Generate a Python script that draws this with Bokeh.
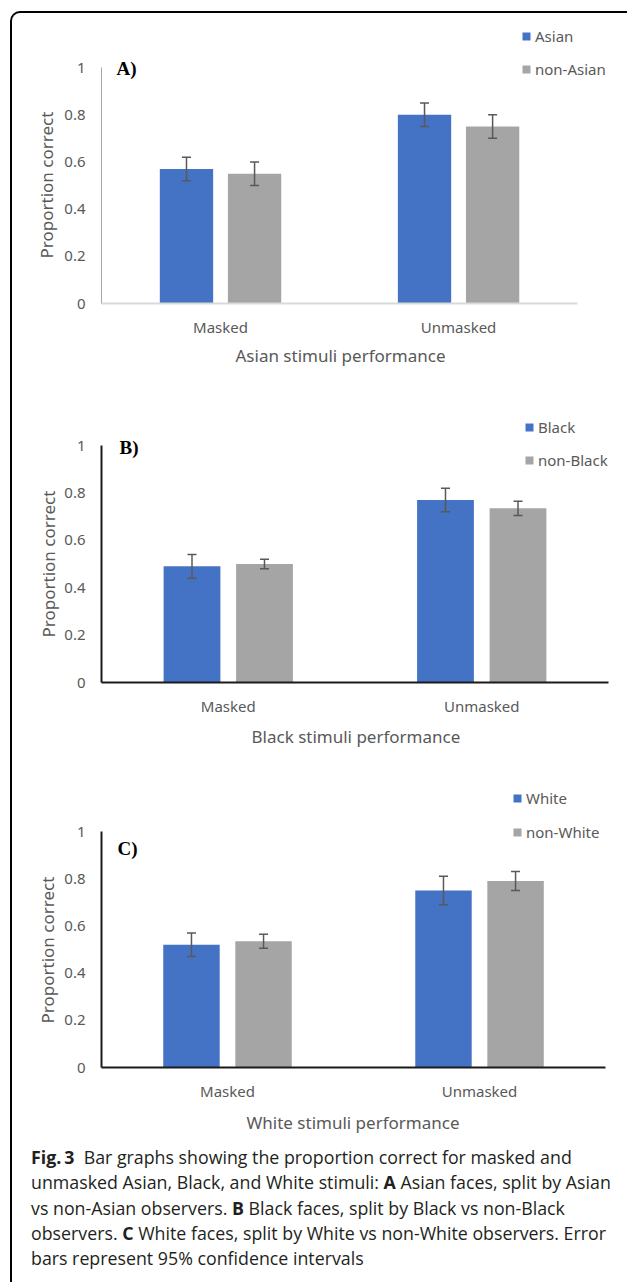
from bokeh.plotting import figure
from bokeh.models import (ColumnDataSource, Range1d, FixedTicker,
                          Legend, LegendItem, Label, Div, Title)
from bokeh.layouts import column
from bokeh.embed import file_html
from bokeh.resources import INLINE

# ---------------- data ----------------
conditions = ["Masked", "Unmasked"]
y_ticks = [0, 0.2, 0.4, 0.6, 0.8, 1]
y_tick_labels = ["0", "0.2", "0.4", "0.6", "0.8", "1"]
y_title = "Proportion correct"

# Panel A: Asian stimuli
a_groups = ["Asian", "non-Asian"]
a_own = [0.57, 0.80]
a_own_err = [0.05, 0.05]
a_other = [0.55, 0.75]
a_other_err = [0.05, 0.05]
a_title = "Asian stimuli performance"

# Panel B: Black stimuli
b_groups = ["Black", "non-Black"]
b_own = [0.49, 0.77]
b_own_err = [0.05, 0.05]
b_other = [0.50, 0.735]
b_other_err = [0.02, 0.03]
b_title = "Black stimuli performance"

# Panel C: White stimuli
c_groups = ["White", "non-White"]
c_own = [0.52, 0.75]
c_own_err = [0.05, 0.06]
c_other = [0.535, 0.79]
c_other_err = [0.03, 0.04]
c_title = "White stimuli performance"

caption_lines = [
    "<b>Fig.&thinsp;3</b>&nbsp;&nbsp;Bar graphs showing the proportion correct for masked and",
    "unmasked Asian, Black, and White stimuli: <b>A</b> Asian faces, split by Asian",
    "vs non-Asian observers. <b>B</b> Black faces, split by Black vs non-Black",
    "observers. <b>C</b> White faces, split by White vs non-White observers. Error",
    "bars represent 95% confidence intervals",
]

BLUE = "#4472C4"
GREY = "#A5A5A5"
ERR = "#595959"
TXT = "#595959"
FONT = "Noto Sans"

OFF = 0.143   # half distance between the two bars of a group (category units)
BW = 0.224    # bar width (category units)
FIG_W = 613
X0 = 12       # page x of the figures' left edge


def panel(letter, groups, own, own_err, other, other_err, xtitle, geo, yaxis_col,
          xaxis_col, yaxis_w, xaxis_w):
    ncat = len(conditions)
    centers = [i + 0.5 for i in range(ncat)]
    src = ColumnDataSource(dict(
        xo=[c - OFF for c in centers], xt=[c + OFF for c in centers],
        own=own, own_lo=[v - e for v, e in zip(own, own_err)],
        own_hi=[v + e for v, e in zip(own, own_err)],
        other=other, other_lo=[v - e for v, e in zip(other, other_err)],
        other_hi=[v + e for v, e in zip(other, other_err)],
    ))
    mbl = geo["ax_l"] - X0
    mbr = 2
    frame_w = FIG_W - mbl - mbr
    x_end = ncat * frame_w / (geo["ax_r"] - geo["ax_l"])
    frame_h = geo["z"] - geo["top"]
    y_end = frame_h / (geo["z"] - geo["o"])
    mbb = geo["top"] + geo["h"] - geo["z"]

    p = figure(width=FIG_W, height=geo["h"], x_range=Range1d(0, x_end),
               y_range=Range1d(0, y_end), output_backend="svg", toolbar_location=None,
               min_border_left=mbl, min_border_right=mbr,
               min_border_top=0, min_border_bottom=mbb)
    p.outline_line_color = None
    p.grid.visible = False
    p.background_fill_color = None
    p.border_fill_color = None

    r1 = p.vbar(x="xo", top="own", width=BW, source=src, fill_color=BLUE, line_color=None)
    r2 = p.vbar(x="xt", top="other", width=BW, source=src, fill_color=GREY, line_color=None)

    for xx, lo, hi in (("xo", "own_lo", "own_hi"), ("xt", "other_lo", "other_hi")):
        p.segment(x0=xx, y0=lo, x1=xx, y1=hi, source=src, line_color=ERR, line_width=1.5)
        p.scatter(x=xx, y=lo, marker="dash", size=9, source=src, line_color=ERR, line_width=1.5)
        p.scatter(x=xx, y=hi, marker="dash", size=9, source=src, line_color=ERR, line_width=1.5)

    # y axis
    ya = p.yaxis[0]
    ya.bounds = (y_ticks[0], y_ticks[-1])
    ya.ticker = FixedTicker(ticks=y_ticks)
    ya.major_label_overrides = {t: s for t, s in zip(y_ticks, y_tick_labels)}
    ya.major_tick_in = 0
    ya.major_tick_out = 0
    ya.minor_tick_in = 0
    ya.minor_tick_out = 0
    ya.major_label_standoff = 16
    ya.major_label_text_font = FONT
    ya.major_label_text_font_size = "15px"
    ya.major_label_text_color = TXT
    ya.axis_line_color = yaxis_col
    ya.axis_line_width = yaxis_w

    # x axis (one tick at the centre of each condition)
    xa = p.xaxis[0]
    xa.bounds = (0, ncat)
    xa.ticker = FixedTicker(ticks=centers)
    xa.major_label_overrides = {c: n for c, n in zip(centers, conditions)}
    xa.major_tick_in = 0
    xa.major_tick_out = 0
    xa.minor_tick_in = 0
    xa.minor_tick_out = 0
    xa.major_label_standoff = 13
    xa.major_label_text_font = FONT
    xa.major_label_text_font_size = "15px"
    xa.major_label_text_color = TXT
    xa.axis_line_color = xaxis_col
    xa.axis_line_width = xaxis_w

    # axis titles (as side titles so they can sit under / beside the 0..1 part of the axes)
    p.add_layout(Title(text=y_title, align="left", offset=geo["yo"], standoff=geo["ys"],
                       text_font=FONT, text_font_size="17px", text_font_style="normal",
                       text_color=TXT), "left")
    p.add_layout(Title(text=xtitle, align="left", offset=geo["xo"], standoff=geo["xs"],
                       text_font=FONT, text_font_size="17px", text_font_style="normal",
                       text_color=TXT), "below")

    leg = Legend(items=[LegendItem(label=groups[0], renderers=[r1]),
                        LegendItem(label=groups[1], renderers=[r2])],
                 location=geo["leg"], orientation="vertical",
                 glyph_width=10, glyph_height=10, label_height=20, label_standoff=4,
                 spacing=geo["sp"], padding=0, margin=0,
                 border_line_color=None, background_fill_alpha=0,
                 label_text_font=FONT, label_text_font_size="15px", label_text_color=TXT)
    p.add_layout(leg, "center")

    p.add_layout(Label(x=geo["lab"][0], y=geo["lab"][1], x_units="screen", y_units="screen",
                       text=letter, text_font="Liberation Serif", text_font_style="bold",
                       text_font_size="19px", text_color="#000000", text_baseline="middle"))
    return p


pA = panel("A)", a_groups, a_own, a_own_err, a_other, a_other_err, a_title,
           dict(top=13, h=377, ax_l=100, ax_r=577, z=303, o=67,
                yo=45, ys=8, xo=134, xs=4,
                leg=(420, 224), sp=13, lab=(15, 235)),
           "#a6a6a6", "#d9d9d9", 1, 2)
pB = panel("B)", b_groups, b_own, b_own_err, b_other, b_other_err, b_title,
           dict(top=390, h=386, ax_l=101, ax_r=608, z=682, o=445,
                yo=45, ys=3, xo=150, xs=9,
                leg=(423, 212), sp=13, lab=(18, 235)),
           "#1a1a1a", "#1a1a1a", 2, 2)
pC = panel("C)", c_groups, c_own, c_own_err, c_other, c_other_err, c_title,
           dict(top=776, h=364, ax_l=100, ax_r=605, z=1067, o=831,
                yo=44, ys=6, xo=145, xs=10,
                leg=(411, 225), sp=14, lab=(16, 219)),
           "#1a1a1a", "#1a1a1a", 2, 2)

cap = Div(text=('<div style="font-family:\'Open Sans\';font-size:17.8px;line-height:25.3px;'
                'color:#231f20;white-space:nowrap;padding:0 0 0 14px;">'
                + "<br>".join(caption_lines) + "</div>"),
          width=FIG_W, height=136)

layout = column(pA, pB, pC, cap, spacing=0, margin=(11, 0, 0, 10),
                styles={"border-top": "2px solid #000", "border-left": "2px solid #000",
                        "border-top-left-radius": "10px"})

open("out.html", "w").write(file_html(layout, INLINE))
